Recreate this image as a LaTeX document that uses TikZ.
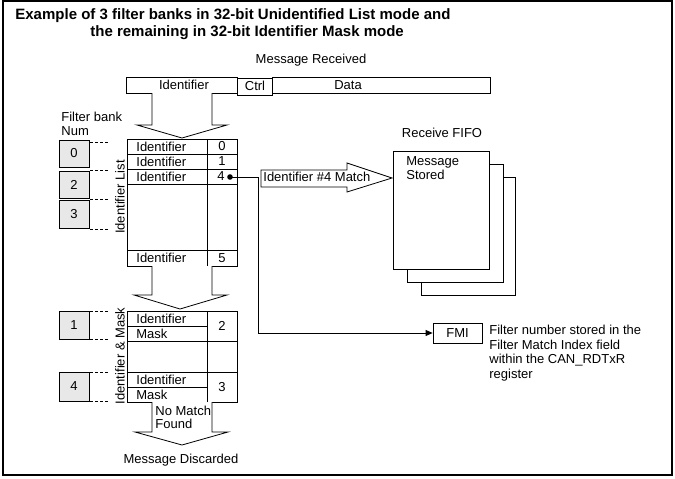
\documentclass[tikz,border=0pt]{standalone}
\usepackage{fontspec}
\setmainfont{Liberation Sans}
\usetikzlibrary{arrows.meta}
\begin{document}
\begin{tikzpicture}[x=1pt,y=-1pt,line width=0.8pt,
  txt/.style={font=\fontsize{13}{15}\selectfont, inner sep=0pt},
  ttl/.style={font=\bfseries\fontsize{15}{17}\selectfont, inner sep=0pt, anchor=west},
  gbox/.style={draw, fill=gray!18, line width=0.8pt},
  dots/.style={dash pattern=on 2.5pt off 2.5pt, line width=1pt},
  blk/.style={draw, fill=white, line width=0.8pt}]
\useasboundingbox (0,0) rectangle (675,479);
\draw[line width=1.4pt] (3,1) rectangle (672,475);
% title
\node[ttl] (t1) at (15,16) {Example of 3 filter banks in 32-bit Unidentified List mode and};
\node[ttl] (t2) at (90,33) {the remaining in 32-bit Identifier Mask mode};
\node[txt] (mr) at (311,60) {Message Received};
% message bar
\draw (126,77) rectangle (237,93);
\draw (237,78) rectangle (272,95);
\draw (272,77) rectangle (490,93);
\node[txt] (bid) at (184,85) {Identifier};
\node[txt] (bctrl) at (255,86) {Ctrl};
\node[txt] (bdata) at (348,85) {Data};
% arrow 1
\draw[blk] (152,93) -- (152,125) -- (137,125) -- (182,138) -- (227,125) -- (212,125) -- (212,93);
% filter bank label
\node[txt, anchor=west] (fb1) at (61,117) {Filter bank};
\node[txt, anchor=west] (fb2) at (61,131) {Num};
% gray boxes
\draw[gbox] (59,140) rectangle (89,167);
\draw[gbox] (59,171) rectangle (89,198);
\draw[gbox] (59,200) rectangle (89,228);
\draw[gbox] (59,311) rectangle (89,339);
\draw[gbox] (59,372) rectangle (89,401);
\node[txt] (g0) at (74,153.5) {0};
\node[txt] (g2) at (74,184.5) {2};
\node[txt] (g3) at (74,214) {3};
\node[txt] (g1) at (74,325) {1};
\node[txt] (g4) at (74,386.5) {4};
% dotted lines
\foreach \yy in {142,170,199,229,311,339,372,401}
  \draw[dots] (90,\yy) -- (108,\yy);
% vertical labels
\node[txt, rotate=90] (idl) at (120,197) {Identifier List};
\node[txt, rotate=90] (idm) at (120,356) {Identifier \& Mask};
% table 1
\draw (127,139) rectangle (237,266);
\draw (207,139) -- (207,266);
\draw (127,154) -- (237,154);
\draw (127,169) -- (237,169);
\draw (127,184) -- (237,184);
\draw (127,250) -- (237,250);
\node[txt, anchor=west] (i0) at (136,146.5) {Identifier};
\node[txt, anchor=west] (i1) at (136,161.5) {Identifier};
\node[txt, anchor=west] (i4) at (136,176.5) {Identifier};
\node[txt, anchor=west] (i5) at (136,258) {Identifier};
\node[txt] (n0) at (222,146.5) {0};
\node[txt] (n1) at (222,161.5) {1};
\node[txt] (n4) at (221,176.5) {4};
\node[txt] (n5) at (222,258) {5};
\fill (230,177) circle (2.8);
\coordinate (dot) at (230,177);
% arrow 2
\draw[blk] (152,266) -- (152,295) -- (134,295) -- (180,309) -- (227,295) -- (212,295) -- (212,266);
% table 2
\draw (127,311) rectangle (237,402);
\draw (207,311) -- (207,402);
\draw (127,326) -- (207,326);
\draw (127,341) -- (237,341);
\draw (127,372) -- (237,372);
\draw (127,387) -- (207,387);
\node[txt, anchor=west] (m1) at (136,318.5) {Identifier};
\node[txt, anchor=west] (m2) at (136,333.5) {Mask};
\node[txt, anchor=west] (m3) at (136,379.5) {Identifier};
\node[txt, anchor=west] (m4) at (136,394.5) {Mask};
\node[txt] (n2) at (222,326) {2};
\node[txt] (n3) at (222,387) {3};
% arrow 3
\draw[blk] (152,402) -- (152,432) -- (135,432) -- (182,445) -- (228,432) -- (212,432) -- (212,402);
\node[txt, anchor=west] (nm1) at (155,411) {No Match};
\node[txt, anchor=west] (nm2) at (155,424) {Found};
\node[txt] (md) at (181,460) {Message Discarded};
% match arrow
\draw[blk] (261,170) -- (347,170) -- (347,163) -- (392,178) -- (347,192) -- (347,187) -- (261,187) -- cycle;
\node[txt, anchor=west] (mt) at (263,177) {Identifier \#4 Match};
% FIFO
\node[txt] (rf) at (442,133) {Receive FIFO};
\draw[blk] (421,177) rectangle (515,295);
\draw[blk] (407,164) rectangle (503,282);
\draw[blk] (393,151) rectangle (489,269);
\node[txt, anchor=west] (ms1) at (406,162) {Message};
\node[txt, anchor=west] (ms2) at (406,175) {Stored};
% FMI
\node[draw, txt, minimum width=49pt, minimum height=20pt, line width=0.8pt] (fmi) at (457.5,333) {FMI};
\draw[-{Triangle[length=7pt,width=6pt]}] (dot) -- (258,177) |- (fmi.west);
\node[txt, anchor=west] (f1) at (489,330) {Filter number stored in the};
\node[txt, anchor=west] (f2) at (489,345) {Filter Match Index field};
\node[txt, anchor=west] (f3) at (489,360) {within the CAN\_RDTxR};
\node[txt, anchor=west] (f4) at (489,375) {register};
\end{tikzpicture}
\end{document}
